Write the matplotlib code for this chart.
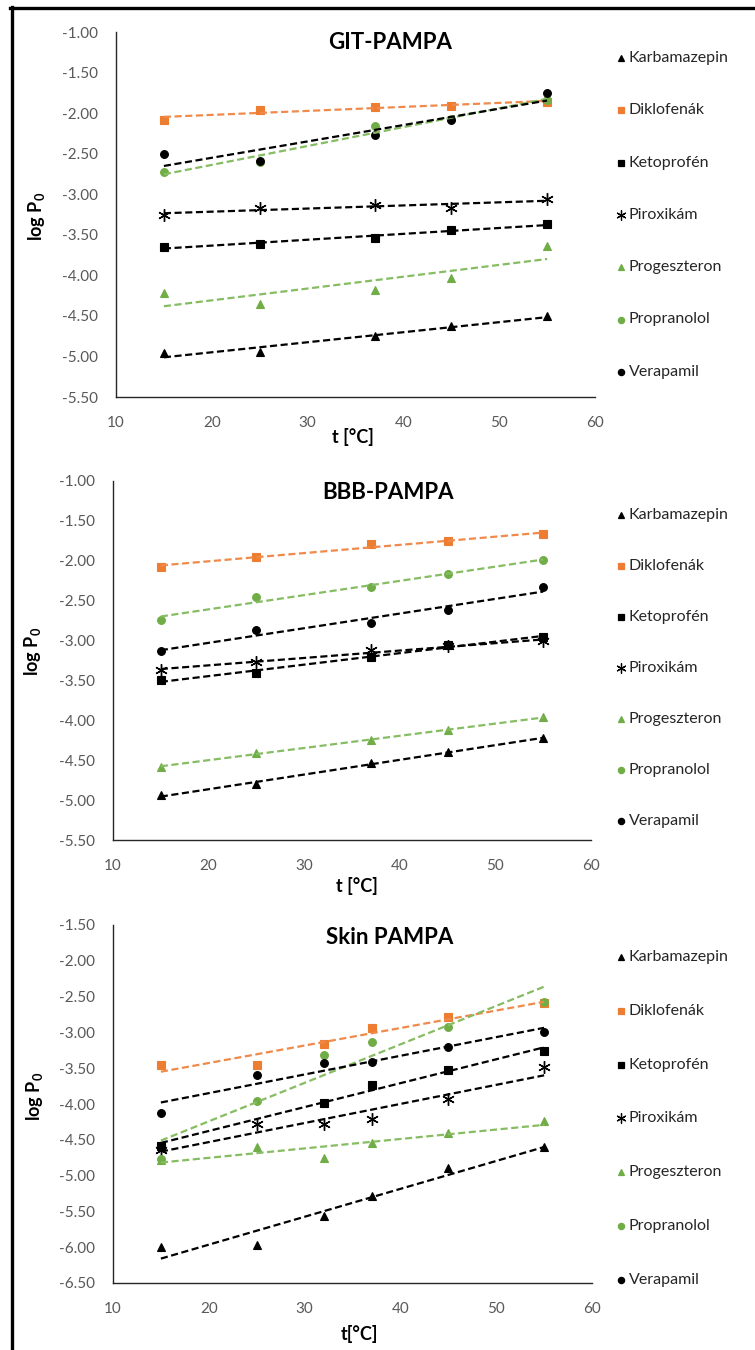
import numpy as np
import matplotlib
matplotlib.use("Agg")
import matplotlib.pyplot as plt
from matplotlib.lines import Line2D

plt.rcParams["font.family"] = ["Lato", "DejaVu Sans"]
plt.rcParams["mathtext.fontset"] = "custom"
plt.rcParams["mathtext.rm"] = "Lato"
plt.rcParams["mathtext.bf"] = "Lato:bold"

# ---- data -------------------------------------------------------------
compounds = ["Karbamazepin", "Diklofenák", "Ketoprofén", "Piroxikám",
             "Progeszteron", "Propranolol", "Verapamil"]

# GIT-PAMPA, log P0 at each temperature (rows follow `compounds`)
t_git = [15, 25, 37, 45, 55]
logp_git = [
    [-4.96, -4.95, -4.75, -4.63, -4.50],
    [-2.08, -1.96, -1.92, -1.91, -1.86],
    [-3.65, -3.61, -3.54, -3.44, -3.37],
    [-3.25, -3.17, -3.13, -3.17, -3.06],
    [-4.22, -4.35, -4.18, -4.03, -3.64],
    [-2.73, -2.60, -2.16, -2.07, -1.84],
    [-2.51, -2.59, -2.27, -2.08, -1.75],
]

# BBB-PAMPA
t_bbb = [15, 25, 37, 45, 55]
logp_bbb = [
    [-4.94, -4.80, -4.54, -4.40, -4.22],
    [-2.08, -1.95, -1.79, -1.75, -1.67],
    [-3.50, -3.41, -3.20, -3.05, -2.96],
    [-3.37, -3.27, -3.12, -3.07, -3.01],
    [-4.58, -4.41, -4.25, -4.12, -3.96],
    [-2.74, -2.45, -2.33, -2.16, -1.99],
    [-3.13, -2.87, -2.78, -2.62, -2.33],
]

# Skin PAMPA (no ketoprofen value at 25 °C)
t_skin = [15, 25, 32, 37, 45, 55]
logp_skin = [
    [-6.00, -5.97, -5.57, -5.28, -4.90, -4.60],
    [-3.46, -3.46, -3.16, -2.94, -2.78, -2.59],
    [-4.58, np.nan, -3.98, -3.73, -3.53, -3.26],
    [-4.64, -4.28, -4.28, -4.21, -3.93, -3.48],
    [-4.78, -4.60, -4.76, -4.55, -4.41, -4.24],
    [-4.77, -3.96, -3.31, -3.13, -2.92, -2.58],
    [-4.13, -3.59, -3.43, -3.41, -3.21, -3.00],
]

titles = ["GIT-PAMPA", "BBB-PAMPA", "Skin PAMPA"]
xlabels = ["t [°C]", "t [°C]", "t[°C]"]
y_ranges = [(-5.5, -1.0), (-5.5, -1.0), (-6.5, -1.5)]
x_ticks = [10, 20, 30, 40, 50, 60]

# ---- styles -----------------------------------------------------------
BLACK = "#000000"
ORANGE = "#ED7D31"
GREEN = "#70AD47"
GREEN_LINE = "#86BC62"
ORANGE_LINE = "#F08A4B"

styles = {
    "Karbamazepin": dict(marker="^", color=BLACK, line=BLACK, ms=6.0),
    "Diklofenák":   dict(marker="s", color=ORANGE, line=ORANGE_LINE, ms=5.2),
    "Ketoprofén":   dict(marker="s", color=BLACK, line=BLACK, ms=5.2),
    "Piroxikám":    dict(marker=(6, 2, 0), color=BLACK, line=BLACK, ms=9.0),
    "Progeszteron": dict(marker="^", color=GREEN, line=GREEN_LINE, ms=6.0),
    "Propranolol":  dict(marker="o", color=GREEN, line=GREEN_LINE, ms=5.6),
    "Verapamil":    dict(marker="o", color=BLACK, line=BLACK, ms=5.6),
}

W, H = 755, 1350
fig = plt.figure(figsize=(W / 100, H / 100), dpi=100)


def fx(px):
    return px / W


def fy(py):
    return 1 - py / H


# axes boxes in pixels: left, top, right, bottom
boxes = [(116, 32, 595, 397), (113, 481, 591, 840), (113, 925, 592, 1283)]
title_pos = [(0.572, 0.970), (0.575, 0.969), (0.578, 0.966)]
ylabel_pos = [(-0.144, 0.494), (-0.146, 0.524), (-0.142, 0.52)]
xlabel_pos = [(0.495, -0.085), (0.51, -0.102), (0.515, -0.118)]
legend_rows = [(58, 52.3), (515, 51.0), (957, 53.8)]

panels = [(t_git, logp_git), (t_bbb, logp_bbb), (t_skin, logp_skin)]

for k, (t_vals, table) in enumerate(panels):
    l, tp, r, b = boxes[k]
    ax = fig.add_axes([fx(l), fy(b), fx(r - l), (b - tp) / H])
    t_arr = np.asarray(t_vals, dtype=float)

    for name, row in zip(compounds, table):
        st = styles[name]
        y = np.asarray(row, dtype=float)
        ok = ~np.isnan(y)
        ax.plot(t_arr[ok], y[ok], linestyle="none", marker=st["marker"],
                ms=st["ms"], color=st["color"], mec=st["color"],
                mew=1.0 if st["marker"] == (6, 2, 0) else 0.8, zorder=3)
        # linear trendline over the measured temperature range
        coef = np.polyfit(t_arr[ok], y[ok], 1)
        xs = np.array([t_arr[ok].min(), t_arr[ok].max()])
        ax.plot(xs, np.polyval(coef, xs), color=st["line"], lw=1.6,
                linestyle=(0, (3.2, 1.6)), zorder=4)

    ymin, ymax = y_ranges[k]
    ax.set_xlim(10, 60)
    ax.set_ylim(ymin, ymax)
    ax.set_xticks(x_ticks)
    ax.set_yticks(np.arange(ymin, ymax + 0.01, 0.5))
    ax.yaxis.set_major_formatter(matplotlib.ticker.FormatStrFormatter("%.2f"))
    ax.tick_params(length=0, labelsize=11, labelcolor="#595959")
    ax.tick_params(axis="y", pad=13)
    ax.tick_params(axis="x", pad=14)
    for s in ("top", "right"):
        ax.spines[s].set_visible(False)
    for s in ("left", "bottom"):
        ax.spines[s].set_color("#262626")
        ax.spines[s].set_linewidth(1.0)

    ax.text(*title_pos[k], titles[k], transform=ax.transAxes, ha="center",
            va="center", fontsize=16, fontweight="bold")
    ax.set_ylabel(r"log P$_{\mathbf{0}}$", fontsize=13, fontweight="bold")
    ax.yaxis.set_label_coords(*ylabel_pos[k])
    ax.set_xlabel(xlabels[k], fontsize=13, fontweight="bold")
    ax.xaxis.set_label_coords(*xlabel_pos[k])

    # legend column to the right of the plot
    y0, pitch = legend_rows[k]
    for i, name in enumerate(compounds):
        st = styles[name]
        yy = y0 + i * pitch
        fig.add_artist(Line2D([fx(621)], [fy(yy)], transform=fig.transFigure,
                              linestyle="none", marker=st["marker"],
                              ms=st["ms"] * 0.8, color=st["color"],
                              mec=st["color"], mew=0.9))
        fig.text(fx(629), fy(yy), name, fontsize=11.5, va="center",
                 ha="left", color="#262626")

# frame lines along the top and left edge
fig.add_artist(Line2D([fx(10), 1.0], [fy(7.5), fy(7.5)],
                      transform=fig.transFigure, color="black", lw=2.4))
fig.add_artist(Line2D([fx(11.5), fx(11.5)], [fy(6.5), 0.0],
                      transform=fig.transFigure, color="black", lw=2.4))

fig.savefig("out.png", dpi=100, facecolor="white")
